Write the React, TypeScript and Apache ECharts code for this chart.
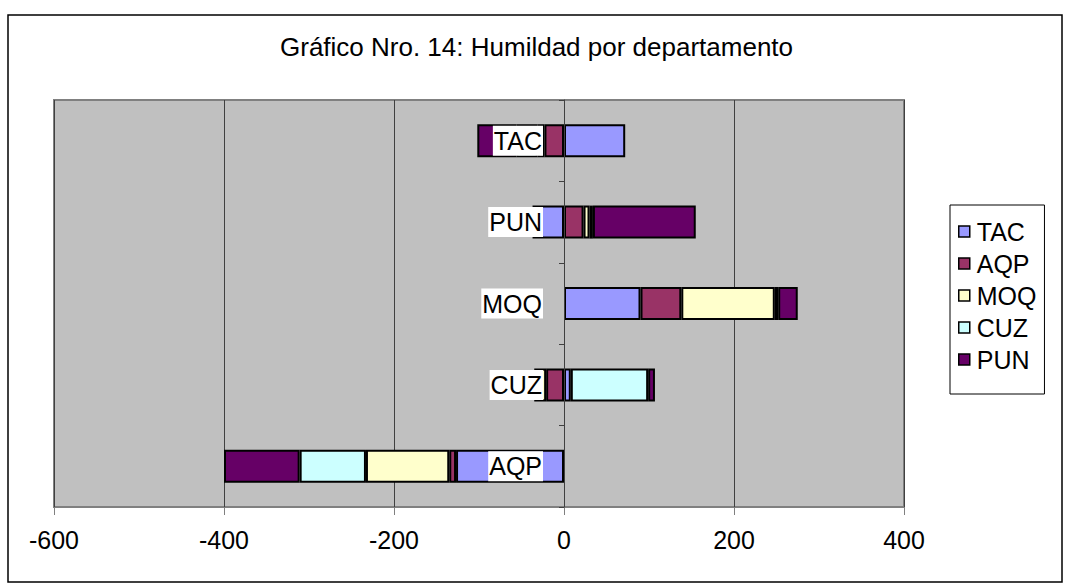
import React, { useEffect, useRef } from "react";
import * as echarts from "echarts";

const categories = ["AQP", "CUZ", "MOQ", "PUN", "TAC"];
const seriesNames = ["TAC", "AQP", "MOQ", "CUZ", "PUN"];
const tacValues = [-127, 8, 90, -37, 72];
const aqpValues = [-8, -21, 48, 23, -23];
const moqValues = [-98, -14, 110, 7, -8];
const cuzValues = [-78, 91, 4, 4, -25];
const punValues = [-89, 8, 23, 121, -46];
const colors = ["#9999FF", "#993366", "#FFFFCC", "#CCFFFF", "#660066"];
const xTicks = { min: -600, max: 400, interval: 200 };
const titleText = "Gráfico Nro. 14: Humildad por departamento";

const FONT = "'Liberation Sans', Arial, sans-serif";

export default function App() {
  const ref = useRef<HTMLDivElement>(null);
  useEffect(() => {
    document.body.style.margin = "0";
    const chart = echarts.init(ref.current!, null, { renderer: "svg" });
    const values = [tacValues, aqpValues, moqValues, cuzValues, punValues];
    const barSeries = seriesNames.map((name, i) => ({
      name,
      type: "bar",
      stack: "total",
      barWidth: 33,
      data: values[i],
      itemStyle: { color: colors[i], borderColor: "#000", borderWidth: 2 },
    }));
    const labelSeries = {
      name: "categoryLabels",
      type: "scatter",
      symbolSize: 0,
      silent: true,
      z: 20,
      itemStyle: { opacity: 1, color: "#000" },
      data: categories.map((c) => [0, c]),
      label: {
        show: true,
        position: "left",
        distance: 21,
        opacity: 1,
        formatter: (p: any) => p.value[1],
        fontFamily: FONT,
        fontSize: 25,
        color: "#000",
        backgroundColor: "#fff",
        padding: [3, 1, 2, 1],
      },
    };
    chart.setOption({
      animation: false,
      backgroundColor: "#fff",
      textStyle: { fontFamily: FONT, color: "#000" },
      title: {
        text: titleText,
        left: 280,
        top: 34,
        padding: 0,
        textStyle: { fontFamily: FONT, fontSize: 26, fontWeight: "normal", color: "#000" },
      },
      graphic: [
        {
          type: "rect",
          shape: { x: 8, y: 15, width: 1054, height: 567 },
          style: { fill: "none", stroke: "#000", lineWidth: 1.5 },
          silent: true,
        },
      ],
      legend: {
        orient: "vertical",
        left: 950,
        top: 205,
        padding: [14, 8, 22, 8],
        itemGap: 7,
        itemWidth: 11,
        itemHeight: 11,
        icon: "rect",
        borderColor: "#000",
        borderWidth: 1,
        data: seriesNames,
        itemStyle: { borderColor: "#000", borderWidth: 1.5 },
        textStyle: { fontFamily: FONT, fontSize: 25, color: "#000", padding: [0, 0, 0, 2] },
      },
      grid: {
        left: 54,
        right: 161,
        top: 100,
        bottom: 78,
        containLabel: false,
        outerBoundsMode: "none",
        show: true,
        backgroundColor: "#C0C0C0",
        borderColor: "#808080",
        borderWidth: 2,
      },
      xAxis: {
        type: "value",
        min: xTicks.min,
        max: xTicks.max,
        interval: xTicks.interval,
        axisLine: { show: false },
        axisTick: { show: true, length: 8, lineStyle: { color: "#808080", width: 1 } },
        splitLine: { show: true, lineStyle: { color: "#404040", width: 1 } },
        axisLabel: { fontFamily: FONT, fontSize: 25, color: "#000", margin: 20 },
      },
      yAxis: {
        type: "category",
        data: categories,
        z: 10,
        axisLine: { show: true, onZero: true, lineStyle: { color: "#404040", width: 1 } },
        axisTick: { show: true, length: 5, lineStyle: { color: "#404040" } },
        axisLabel: { show: false },
        splitLine: { show: false },
      },
      series: [...barSeries, labelSeries],
    });
    return () => chart.dispose();
  }, []);
  return <div ref={ref} style={{ width: 1065, height: 585 }} />;
}
